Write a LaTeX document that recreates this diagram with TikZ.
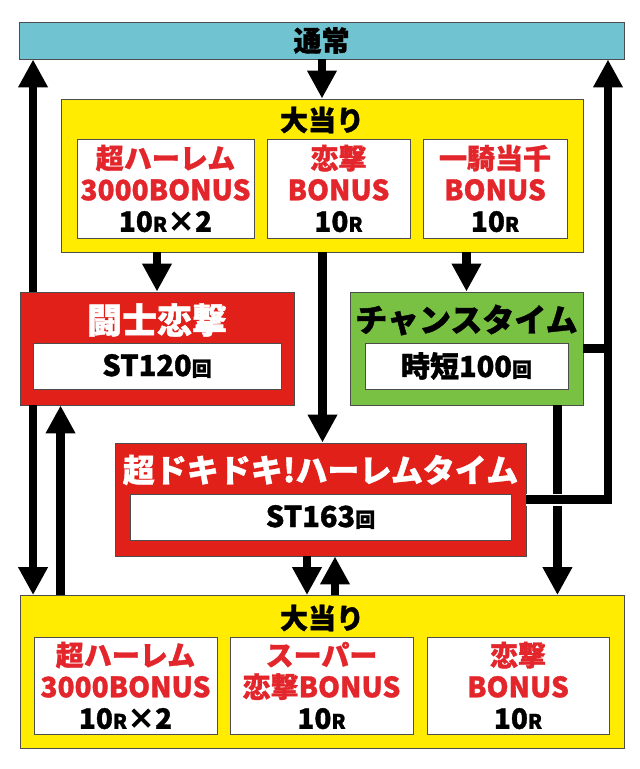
\documentclass[tikz,border=0pt]{standalone}
\usepackage{fontspec}
\setmainfont{Noto Sans CJK JP}[BoldFeatures={FakeBold=1.2}]
\usetikzlibrary{arrows.meta,positioning}
\definecolor{BarTeal}{HTML}{70C3D0}
\definecolor{HitYellow}{HTML}{FFEC00}
\definecolor{ModeRed}{HTML}{E2201A}
\definecolor{ModeGreen}{HTML}{78C143}
\definecolor{TextRed}{HTML}{E3262B}
\definecolor{EdgeGray}{HTML}{4D4D4D}
\newcommand{\headfont}{\fontsize{28}{30}\selectfont\bfseries}
\newcommand{\titlefont}{\fontsize{32}{34}\selectfont\bfseries}
\newcommand{\cardfont}{\fontsize{28}{31.5}\selectfont\bfseries}
\newcommand{\slotfont}{\fontsize{29}{31}\selectfont\bfseries}
\newcommand{\rnd}{{\fontsize{20}{20}\selectfont R}}
\newcommand{\kai}{{\fontsize{20}{20}\selectfont 回}}
\newcommand{\red}[1]{\textcolor{TextRed}{#1}}

\begin{document}
\begin{tikzpicture}[x=1pt, y=-1pt,
    frame/.style={draw=EdgeGray, line width=0.9pt, inner sep=0pt},
    bar/.style={frame, fill=BarTeal, minimum width=605pt, minimum height=37pt, font=\headfont},
    hitpanel/.style={frame, fill=HitYellow, minimum height=153pt},
    mode/.style={frame, minimum height=113pt},
    card/.style={frame, fill=white, align=center, font=\cardfont},
    slot/.style={frame, fill=white, minimum height=46pt, font=\slotfont},
    head/.style={inner sep=0pt, font=\headfont},
    flow/.style={line width=8.5pt, -{Triangle[width=28pt,length=28pt]}},
    plain/.style={line width=8.5pt},
    gap/.style={draw=white, line width=12pt}
  ]
  \useasboundingbox (0,0) rectangle (640,769);

  % normal play
  \node[bar] (normal) at (321.5,40.5) {通常};

  % first jackpot
  \node[hitpanel, minimum width=522pt] (hitA) at (322,175.5) {};
  \node[head] (hitA-title) at (322,120) {大当り};
  \node[card, minimum width=177pt, minimum height=99pt] (haremA) at (165.5,188.5)
    {\red{超ハーレム}\\\red{3000BONUS}\\10\rnd×2};
  \node[card, minimum width=143pt, minimum height=99pt] (renA) at (338.5,188.5)
    {\red{恋撃}\\\red{BONUS}\\10\rnd};
  \node[card, minimum width=144pt, minimum height=99pt] (ikki) at (495,188.5)
    {\red{一騎当千}\\\red{BONUS}\\10\rnd};

  % modes
  \node[mode, fill=ModeRed, minimum width=274pt] (toshi) at (157,348.5) {};
  \node[head, font=\titlefont\fontsize{35}{36}\selectfont, text=white] (toshi-title) at (157,320) {闘士恋撃};
  \node[slot, minimum width=248pt] (toshi-st) at (157,366) {ST120\kai};

  \node[mode, fill=ModeGreen, minimum width=233pt] (chance) at (466.5,348.5) {};
  \node[head, font=\titlefont] (chance-title) at (466.5,320) {チャンスタイム};
  \node[slot, minimum width=203pt] (chance-st) at (466.5,366) {時短100\kai};

  \node[mode, fill=ModeRed, minimum width=411pt] (doki) at (320.5,499.5) {};
  \node[head, font=\titlefont, text=white] (doki-title) at (320.5,470) {超ドキドキ!ハーレムタイム};
  \node[slot, minimum width=381pt] (doki-st) at (320.5,517) {ST163\kai};

  % second jackpot
  \node[hitpanel, minimum width=604pt] (hitB) at (322,672) {};
  \node[head] (hitB-title) at (322,618) {大当り};
  \node[card, minimum width=183pt, minimum height=97pt] (haremB) at (125.5,685.5)
    {\red{超ハーレム}\\\red{3000BONUS}\\10\rnd×2};
  \node[card, minimum width=183pt, minimum height=97pt] (super) at (321.5,685.5)
    {\red{スーパー}\\\red{恋撃BONUS}\\10\rnd};
  \node[card, minimum width=182pt, minimum height=97pt] (renB) at (518,685.5)
    {\red{恋撃}\\\red{BONUS}\\10\rnd};

  \coordinate (back) at (608,499.5);

  % transitions
  \draw[flow] (hitA.north |- normal.south) -- (hitA.north);
  \draw[flow] (toshi.north |- hitA.south) -- (toshi.north);
  \draw[flow] ([xshift=2pt]doki.north |- hitA.south) -- ([xshift=2pt]doki.north);
  \draw[flow] (chance.north |- hitA.south) -- (chance.north);
  \draw[flow] ([xshift=13.5pt]toshi.north west) -- ([xshift=13.5pt]toshi.north west |- normal.south);
  \draw[flow] ([xshift=13.5pt]toshi.south west) -- ([xshift=13.5pt]toshi.south west |- hitB.north);
  \draw[flow] ([xshift=41pt]toshi.south west |- hitB.north) -- ([xshift=41pt]toshi.south west);
  \draw[flow] ([xshift=-26pt]chance.south east) -- ([xshift=-26pt]chance.south east |- hitB.north);
  \draw[gap] (doki.east |- back) -- (back);
  \draw[flow] (doki.east |- back) -- (back) -- (back |- normal.south);
  \draw[plain] (chance.east) -- (chance.east -| back);
  \draw[flow] ([xshift=-13.5pt]doki.south) -- ([xshift=-13.5pt]doki.south |- hitB.north);
  \draw[flow] ([xshift=14.5pt]doki.south |- hitB.north) -- ([xshift=14.5pt]doki.south);
\end{tikzpicture}
\end{document}
